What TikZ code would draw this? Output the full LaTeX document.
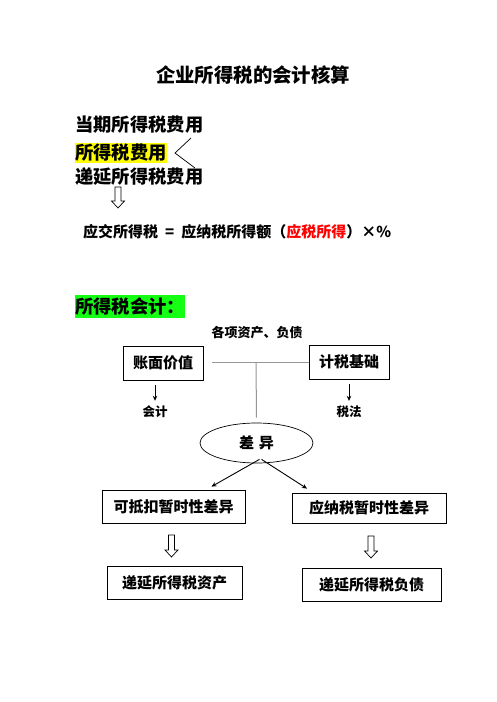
\documentclass[tikz,border=0pt]{standalone}
\usepackage{fontspec}
\setmainfont{Noto Sans CJK SC}
\usetikzlibrary{shapes.geometric,arrows.meta}
\definecolor{hlyellow}{RGB}{255,255,0}
\definecolor{hlgreen}{RGB}{20,255,20}
\definecolor{linegray}{RGB}{150,150,150}
\newcommand{\fs}[1]{\fontsize{#1}{#1}\selectfont}
%% hollow down arrow: x, top, bottom
\newcommand{\hollowdown}[3]{%
  \draw[line width=0.7pt,fill=white] (#1-3,#2) -- (#1+3,#2) -- (#1+3,#3-7) -- (#1+6.5,#3-7)
    -- (#1,#3) -- (#1-6.5,#3-7) -- (#1-3,#3-7) -- cycle;}
\tikzset{
  txt/.style={inner sep=0pt,font=\bfseries\fs{#1}},
  txt/.default=15,
  box/.style={draw,line width=0.8pt,inner sep=0pt,font=\bfseries\fs{15}},
  smallarrow/.style={line width=0.9pt,-{Stealth[length=5pt,width=4.5pt]}}
}
\begin{document}
\begin{tikzpicture}[x=1pt,y=-1pt]
  \useasboundingbox[fill=white] (0,0) rectangle (496,702);
  %% title
  \node[txt=19.4] (title) at (253,75) {企业所得税的会计核算};
  %% expense lines
  \node[txt=18.3,anchor=west] (dangqi) at (75,125) {当期所得税费用};
  \node[txt=18.3,anchor=west,fill=hlyellow,minimum height=20pt] (feiyong) at (75,153) {所得税费用};
  \node[txt=18.3,anchor=west] (diyan) at (75,177) {递延所得税费用};
  \draw[line width=0.7pt] (191,138) -- (175,153) -- (195,168);
  \hollowdown{118}{187}{208}
  %% formula
  \node[txt=15,anchor=west] (formula) at (83,232) {应交所得税\hspace{7pt}=\hspace{7pt}应纳税所得额（\textcolor{red}{应税所得}）×\%};
  %% income tax accounting
  \node[txt=18.3,anchor=west,fill=hlgreen,minimum height=23pt] (kuaiji) at (75,306.5) {所得税会计：};
  \node[txt=13] (zichan) at (257,333) {各项资产、负债};
  \node[box,minimum width=80pt,minimum height=34pt] (zmjz) at (163,363) {账面价值};
  \node[box,minimum width=80pt,minimum height=34pt] (jsjc) at (349,362) {计税基础};
  \draw[linegray,line width=1pt] ([xshift=9pt]zmjz.east |- jsjc.west) -- (jsjc.west);
  \coordinate (mid) at (256,362);
  \node[txt=12.5] (kj) at (155,412) {会计};
  \node[txt=12.5] (sf) at (349,412) {税法};
  \draw[smallarrow] ([yshift=-5pt]zmjz.south -| kj) -- ([yshift=5pt]kj.north);
  \draw[smallarrow] ([yshift=-5pt]jsjc.south -| sf) -- ([yshift=5pt]sf.north);
  %% difference
  \node[draw,ellipse,line width=0.7pt,minimum width=113pt,minimum height=40pt,inner sep=0pt,font=\bfseries\fs{15}] (cy) at (256.5,443) {差\,\,异};
  \draw[linegray,line width=1pt] (mid) -- ([yshift=5pt]cy.north);
  \node[box,minimum width=143pt,minimum height=33pt] (kdk) at (173.5,506.5) {可抵扣暂时性差异};
  \node[box,minimum width=154pt,minimum height=30pt] (ynss) at (369,508) {应纳税暂时性差异};
  \draw[smallarrow] ([xshift=3pt,yshift=4pt]cy.south) -- ([xshift=38pt,yshift=3pt]kdk.north);
  \draw[smallarrow] ([xshift=5pt,yshift=4pt]cy.south) -- ([xshift=-62pt,yshift=4pt]ynss.north);
  %% results
  \hollowdown{171.5}{535}{557}
  \hollowdown{371}{536}{558}
  \node[box,minimum width=135pt,minimum height=33pt] (dyzc) at (174.5,582.5) {递延所得税资产};
  \node[box,minimum width=139pt,minimum height=33pt] (dyfz) at (371.5,584.5) {递延所得税负债};
\end{tikzpicture}
\end{document}
